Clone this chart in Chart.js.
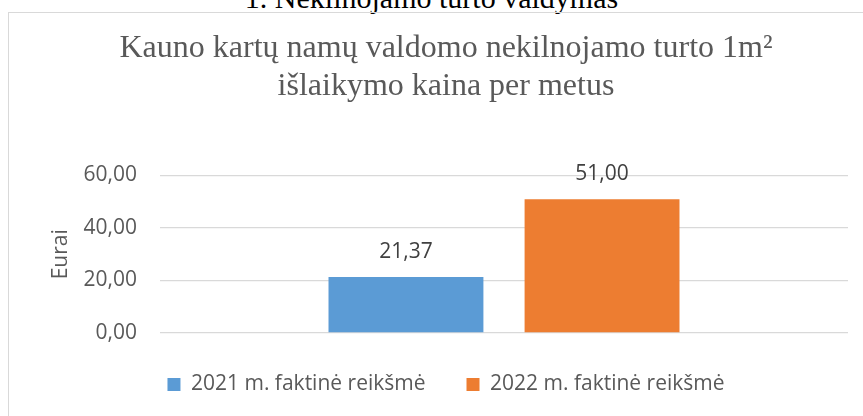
<!DOCTYPE html>
<html>
<head>
<meta charset="utf-8">
<script src="https://cdn.jsdelivr.net/npm/chart.js@4.4.0/dist/chart.umd.min.js"></script>
<style>
  html, body { margin: 0; padding: 0; background: #fff; }
  body { width: 863px; height: 416px; overflow: hidden; position: relative; }
  .heading {
    position: absolute; left: 0; width: 863px; top: -18px;
    text-align: center; font: 30px "Liberation Serif", "Times New Roman", serif;
    color: #000; line-height: 32px;
  }
  .frame {
    position: absolute; left: 8px; top: 12px; width: 900px; height: 440px;
    border: 1px solid #d9d9d9; box-sizing: border-box;
  }
  .wrap { position: absolute; left: 8px; top: 12px; width: 878px; height: 404px; }
</style>
</head>
<body>
<div class="heading">1. Nekilnojamo turto valdymas</div>
<div class="frame"></div>
<div class="wrap"><canvas id="chart"></canvas></div>
<script>
// chart data
const categories = [''];
const seriesNames = ['2021 m. faktinė reikšmė', '2022 m. faktinė reikšmė'];
const values2021 = [21.37];
const values2022 = [51.00];
const yTicks = [0, 20, 40, 60];

const fmt = v => Number(v).toFixed(2).replace('.', ',');

// value labels above bars
const barLabels = {
  id: 'barLabels',
  afterDatasetsDraw(chart) {
    const ctx = chart.ctx;
    ctx.save();
    ctx.font = '21px "Open Sans"';
    ctx.fillStyle = '#404040';
    ctx.textAlign = 'center';
    ctx.textBaseline = 'middle';
    chart.data.datasets.forEach((ds, i) => {
      chart.getDatasetMeta(i).data.forEach((bar, j) => {
        ctx.fillText(fmt(ds.data[j]), bar.x, bar.y - 25);
      });
    });
    ctx.restore();
  }
};

const ctx = document.getElementById('chart').getContext('2d');
new Chart(ctx, {
  type: 'bar',
  data: {
    labels: categories,
    datasets: [
      { label: seriesNames[0], data: values2021, backgroundColor: '#5b9bd5' },
      { label: seriesNames[1], data: values2022, backgroundColor: '#ed7d31' }
    ]
  },
  options: {
    responsive: true,
    maintainAspectRatio: false,
    animation: false,
    categoryPercentage: 0.57,
    barPercentage: 0.79,
    layout: { padding: { left: 36, right: 38, top: 0, bottom: 11 } },
    plugins: {
      title: {
        display: true,
        text: ['Kauno kartų namų valdomo nekilnojamo turto 1m²', 'išlaikymo kaina per metus'],
        color: '#595959',
        font: { family: '"Liberation Serif", "Times New Roman", serif', size: 32, weight: 'normal', lineHeight: 1.1875 },
        padding: { top: 17.5, bottom: 70 }
      },
      legend: {
        position: 'bottom',
        labels: {
          boxWidth: 13,
          boxHeight: 13,
          padding: 41,
          color: '#595959',
          font: { family: '"Open Sans"', size: 21 }
        }
      },
      tooltip: { enabled: false }
    },
    scales: {
      x: { display: false },
      y: {
        min: 0,
        max: 60,
        afterBuildTicks: scale => { scale.ticks = yTicks.map(v => ({ value: v })); },
        afterFit: scale => { scale.width = 116; },
        ticks: {
          padding: 23,
          color: '#595959',
          font: { family: '"Open Sans"', size: 21 },
          callback: v => fmt(v)
        },
        grid: { color: '#d9d9d9', lineWidth: 1.3, drawTicks: false },
        border: { display: false },
        title: {
          display: true,
          text: 'Eurai',
          color: '#595959',
          font: { family: '"Open Sans"', size: 21 },
          padding: { top: 4, bottom: 10 }
        }
      }
    }
  },
  plugins: [barLabels]
});
</script>
</body>
</html>
